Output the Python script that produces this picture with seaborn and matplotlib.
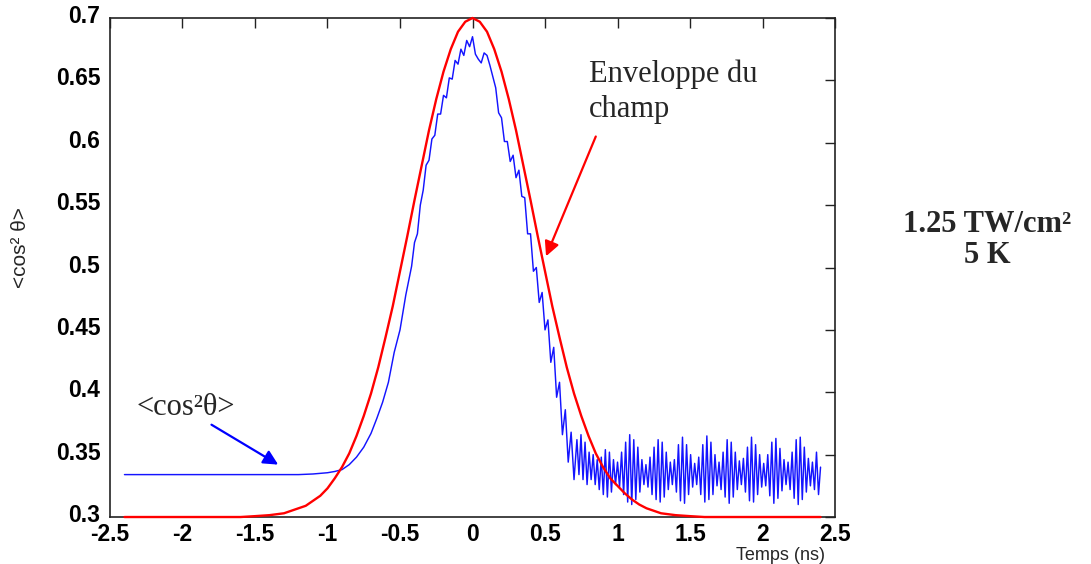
import numpy as np
import pandas as pd
import matplotlib
matplotlib.use("Agg")
import matplotlib.pyplot as plt
import matplotlib.transforms as mtransforms
import seaborn as sns

# ---- data ----
# field envelope (red)
env_t = [-2.4, -1.6, -1.5, -1.4, -1.3, -1.25, -1.2, -1.15, -1.1, -1.05, -1.0,
         -0.95, -0.9, -0.85, -0.8, -0.75, -0.7, -0.65, -0.6, -0.55, -0.5,
         -0.45, -0.4, -0.35, -0.3, -0.25, -0.2, -0.15, -0.1, -0.05, 0.0,
         0.05, 0.1, 0.15, 0.2, 0.25, 0.3, 0.35, 0.4, 0.45, 0.5,
         0.55, 0.6, 0.65, 0.7, 0.75, 0.8, 0.85, 0.9, 0.95, 1.0,
         1.05, 1.1, 1.15, 1.2, 1.25, 1.3, 1.4, 1.5, 1.6, 2.4]
env_v = [0.300, 0.300, 0.3007, 0.3015, 0.303, 0.305, 0.307, 0.309, 0.313, 0.317, 0.323,
         0.331, 0.340, 0.351, 0.365, 0.381, 0.399, 0.420, 0.444, 0.469, 0.497,
         0.525, 0.554, 0.582, 0.610, 0.635, 0.657, 0.675, 0.689, 0.697, 0.700,
         0.697, 0.689, 0.675, 0.657, 0.635, 0.610, 0.582, 0.554, 0.525, 0.497,
         0.469, 0.444, 0.420, 0.399, 0.381, 0.365, 0.351, 0.340, 0.331, 0.325,
         0.319, 0.314, 0.310, 0.307, 0.305, 0.303, 0.3015, 0.3007, 0.300, 0.300]

# <cos^2 theta> (blue): smooth rise
rise_t = [-2.4, -1.5, -1.2, -1.1, -1.0, -0.95, -0.9, -0.85, -0.8, -0.75, -0.7,
          -0.66, -0.62, -0.58, -0.54, -0.5, -0.46, -0.42]
rise_v = [0.334, 0.334, 0.334, 0.3345, 0.3355, 0.3365, 0.338, 0.342, 0.348, 0.356, 0.367,
          0.379, 0.392, 0.408, 0.432, 0.450, 0.478, 0.501]

# noisy peak, -0.40 .. 0.70 ns every 0.02 ns
peak_v = [0.520, 0.527, 0.550, 0.562, 0.582, 0.586, 0.603, 0.606, 0.623, 0.623,
          0.638, 0.636, 0.652, 0.651, 0.666, 0.663, 0.675, 0.670, 0.682, 0.677,
          0.685, 0.671, 0.667, 0.664, 0.672, 0.670, 0.662, 0.653, 0.644, 0.624,
          0.620, 0.601, 0.601, 0.585, 0.590, 0.572, 0.578, 0.557, 0.556, 0.527,
          0.527, 0.497, 0.500, 0.472, 0.480, 0.450, 0.458, 0.424, 0.436, 0.396,
          0.408, 0.366, 0.386, 0.344, 0.368, 0.330]

# oscillating tail, 0.72 .. 2.40 ns every 0.014 ns
tail_v = [0.362, 0.334, 0.366, 0.330, 0.360, 0.326, 0.352, 0.330, 0.350, 0.326,
          0.346, 0.322, 0.348, 0.318, 0.354, 0.316, 0.352, 0.320, 0.346, 0.326,
          0.344, 0.324, 0.352, 0.318, 0.360, 0.312, 0.366, 0.310, 0.362, 0.314,
          0.356, 0.320, 0.346, 0.326, 0.342, 0.324, 0.348, 0.318, 0.356, 0.314,
          0.362, 0.312, 0.360, 0.316, 0.352, 0.322, 0.344, 0.326, 0.346, 0.320,
          0.358, 0.313, 0.364, 0.311, 0.358, 0.318, 0.350, 0.324, 0.343, 0.326,
          0.348, 0.318, 0.358, 0.312, 0.365, 0.314, 0.360, 0.318, 0.350, 0.325,
          0.344, 0.322, 0.352, 0.316, 0.362, 0.311, 0.360, 0.316, 0.352, 0.322,
          0.345, 0.326, 0.347, 0.320, 0.356, 0.313, 0.364, 0.312, 0.358, 0.318,
          0.350, 0.324, 0.343, 0.325, 0.350, 0.317, 0.360, 0.311, 0.363, 0.315,
          0.355, 0.321, 0.346, 0.326, 0.344, 0.322, 0.352, 0.315, 0.362, 0.310,
          0.364, 0.314, 0.356, 0.320, 0.347, 0.325, 0.344, 0.322, 0.352, 0.318,
          0.340]

x_ticks = [-2.5, -2, -1.5, -1, -0.5, 0, 0.5, 1, 1.5, 2, 2.5]
x_labels = ["-2.5", "-2", "-1.5", "-1", "-0.5", "0", "0.5", "1", "1.5", "2", "2.5"]
y_ticks = [0.3, 0.35, 0.4, 0.45, 0.5, 0.55, 0.6, 0.65, 0.7]
y_labels = ["0.3", "0.35", "0.4", "0.45", "0.5", "0.55", "0.6", "0.65", "0.7"]

# ---- assemble ----
peak_t = np.linspace(-0.40, 0.70, len(peak_v))
tail_t = np.linspace(0.72, 2.40, len(tail_v))
blue = pd.DataFrame({
    "t": np.concatenate([rise_t, peak_t, tail_t]),
    "v": np.concatenate([rise_v, peak_v, tail_v]),
})
red = pd.DataFrame({"t": env_t, "v": env_v})

sns.set_theme(style="white")
plt.rcParams["font.family"] = ["Liberation Sans", "DejaVu Sans"]
serif = ["Liberation Serif", "DejaVu Serif"]

fig = plt.figure(figsize=(10.91, 5.64), dpi=100)
ax = fig.add_axes([0.1008, 0.0833, 0.6646, 0.8848])

sns.lineplot(data=blue, x="t", y="v", ax=ax, color="#1414ff", lw=1.05,
             estimator=None, sort=False, zorder=2)
sns.lineplot(data=red, x="t", y="v", ax=ax, color="#ff0000", lw=1.7,
             estimator=None, sort=False, zorder=3, clip_on=False)

ax.set_xlim(-2.5, 2.5)
ax.set_ylim(0.3, 0.7)
ax.set_xticks(x_ticks, x_labels, fontsize=16.5, fontweight="bold")
ax.set_yticks(y_ticks, y_labels, fontsize=16.5, fontweight="bold")
ax.tick_params(direction="in", top=True, right=True, length=7, width=1,
               color="#222222", labelcolor="black")
ax.tick_params(axis="x", pad=4)
ax.tick_params(axis="y", pad=7)
# y labels sit a few pixels above their ticks in the original
lift = mtransforms.ScaledTranslation(0, 4 / 100, fig.dpi_scale_trans)
for lab in ax.get_yticklabels():
    lab.set_transform(lab.get_transform() + lift)
ax.set_xlabel("")
ax.set_ylabel("")
for side in ["left", "bottom", "top", "right"]:
    ax.spines[side].set_visible(True)
    ax.spines[side].set_color("#222222")
    ax.spines[side].set_linewidth(1.2)

# annotations
ax.text(0.80, 0.667, "Enveloppe du\nchamp", fontsize=22, family=serif,
        ha="left", va="top", linespacing=1.3)
ax.annotate("", xy=(0.507, 0.509), xytext=(0.85, 0.605),
            arrowprops=dict(arrowstyle="-|>", color="#ff0000", lw=1.6,
                            mutation_scale=22, shrinkA=0, shrinkB=0))
ax.text(-2.32, 0.376, "<cos²θ>", fontsize=22, family=serif, ha="left", va="bottom")
ax.annotate("", xy=(-1.34, 0.342), xytext=(-1.80, 0.374),
            arrowprops=dict(arrowstyle="-|>", color="#0000ff", lw=1.6,
                            mutation_scale=22, shrinkA=0, shrinkB=0))

fig.text(20 / 1091, 1 - 248 / 564, "<cos² θ>", rotation=90, fontsize=15,
         ha="center", va="center")
fig.text(780 / 1091, 1 - 556 / 564, "Temps (ns)", fontsize=13,
         ha="center", va="center")
fig.text(987 / 1091, 1 - 240 / 564, "1.25 TW/cm²\n5 K", fontsize=22,
         fontweight="bold", family=serif, ha="center", va="center",
         linespacing=1.05)

fig.savefig("out.png", dpi=100)
